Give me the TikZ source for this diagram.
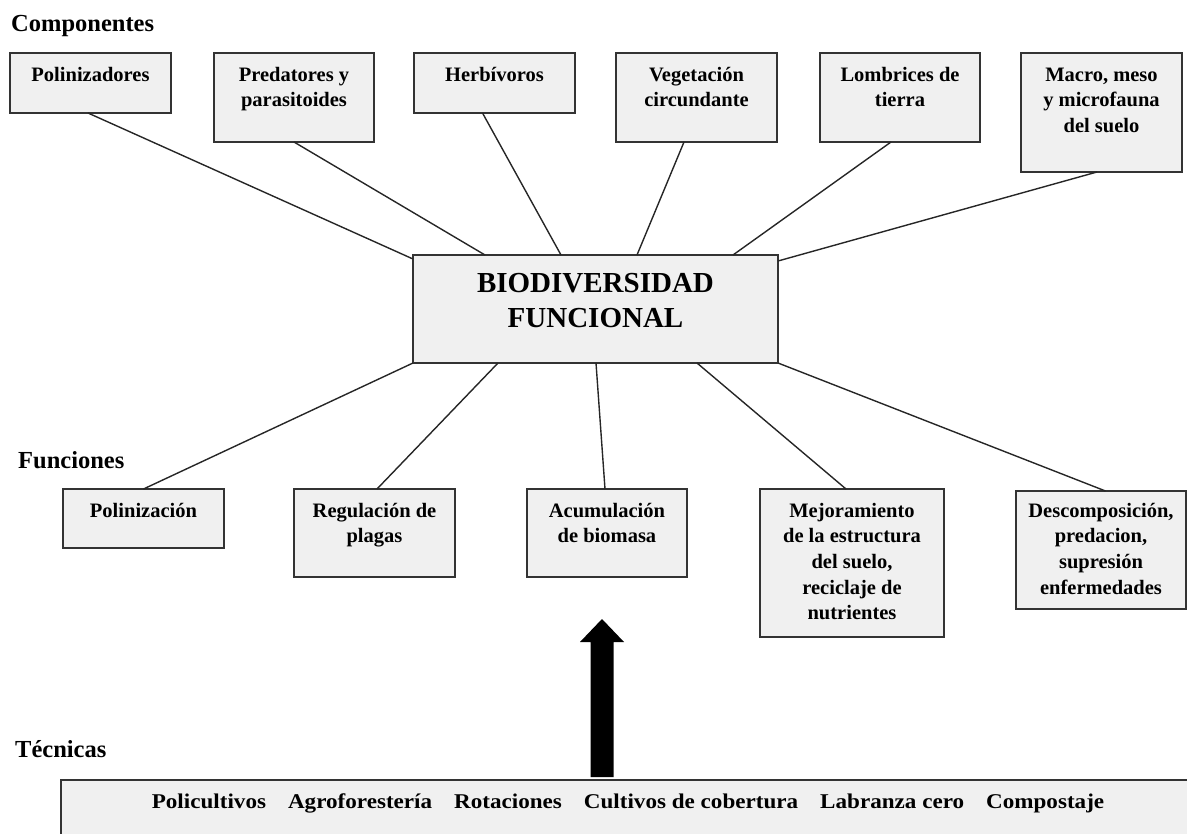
\documentclass[tikz,border=0pt]{standalone}
\usepackage{fontspec}
\setmainfont{Liberation Serif}
\newfontfamily\wideserif[FakeStretch=1.1]{Liberation Serif}
\usetikzlibrary{calc,shadows}

\definecolor{boxfill}{HTML}{F0F0F0}
\definecolor{boxline}{HTML}{333333}
\definecolor{linkcol}{HTML}{262626}

\tikzset{
  box/.style={draw=boxline, fill=boxfill, line width=1.5pt, anchor=north west,
    inner sep=0pt, outer sep=0pt,
    drop shadow={shadow xshift=0.6pt, shadow yshift=-1.4pt, fill=black!55, opacity=0.55}},
  boxtext/.style={anchor=north, align=center, inner sep=0pt,
    font=\bfseries\fontsize{20.5}{25.7}\selectfont},
  bigtext/.style={anchor=north, align=center, inner sep=0pt,
    font=\bfseries\fontsize{29}{35}\selectfont},
  section/.style={anchor=base west, inner sep=0pt,
    font=\bfseries\fontsize{24.5}{29}\selectfont},
  link/.style={draw=linkcol, line width=1.4pt},
}

\begin{document}
\begin{tikzpicture}[x=1pt, y=-1pt]
\useasboundingbox (0,0) rectangle (1187,834);
\clip (0,0) rectangle (1187,834);

% section headings
\node[section] (lcomp) at (11,32)  {Componentes};
\node[section] (lfunc) at (18,468) {Funciones};
\node[section] (ltec)  at (15,757) {Técnicas};

% components
\node[box, minimum width=161pt, minimum height=60pt]  (c1) at (10,53)   {};
\node[box, minimum width=160pt, minimum height=89pt]  (c2) at (214,53)  {};
\node[box, minimum width=161pt, minimum height=60pt]  (c3) at (414,53)  {};
\node[box, minimum width=161pt, minimum height=89pt]  (c4) at (616,53)  {};
\node[box, minimum width=160pt, minimum height=89pt]  (c5) at (820,53)  {};
\node[box, minimum width=161pt, minimum height=119pt] (c6) at (1021,53) {};

\node[boxtext] (c1t) at ([yshift=-10pt]c1.north) {\strut Polinizadores};
\node[boxtext] (c2t) at ([yshift=-10pt]c2.north) {\strut Predatores y\\parasitoides};
\node[boxtext] (c3t) at ([yshift=-10pt]c3.north) {\strut Herbívoros};
\node[boxtext] (c4t) at ([yshift=-10pt]c4.north) {\strut Vegetación\\circundante};
\node[boxtext] (c5t) at ([yshift=-10pt]c5.north) {\strut Lombrices de\\tierra};
\node[boxtext] (c6t) at ([yshift=-10pt]c6.north) {\strut Macro, meso\\y microfauna\\del suelo};

% central box
\node[box, minimum width=365pt, minimum height=108pt] (bio) at (413,255) {};
\node[bigtext] (biot) at ([yshift=-12.5pt]bio.north) {\strut BIODIVERSIDAD\\FUNCIONAL};

% functions
\node[box, minimum width=161pt, minimum height=59pt]  (f1) at (63,489)   {};
\node[box, minimum width=161pt, minimum height=88pt]  (f2) at (294,489)  {};
\node[box, minimum width=160pt, minimum height=88pt]  (f3) at (527,489)  {};
\node[box, minimum width=184pt, minimum height=148pt] (f4) at (760,489)  {};
\node[box, minimum width=170pt, minimum height=118pt] (f5) at (1016,491) {};

\node[boxtext] (f1t) at ([yshift=-10pt]f1.north) {\strut Polinización};
\node[boxtext] (f2t) at ([yshift=-10pt]f2.north) {\strut Regulación de\\plagas};
\node[boxtext] (f3t) at ([yshift=-10pt]f3.north) {\strut Acumulación\\de biomasa};
\node[boxtext] (f4t) at ([yshift=-10pt]f4.north) {\strut Mejoramiento\\de la estructura\\del suelo,\\reciclaje de\\nutrientes};
\node[boxtext] (f5t) at ([yshift=-8pt]f5.north) {\strut Descomposición,\\predacion,\\supresión\\enfermedades};

% techniques
\node[box, minimum width=1200pt, minimum height=100pt] (tec) at (61,780) {};
\node[anchor=base, inner sep=0pt, font=\wideserif\bfseries\fontsize{21}{25}\selectfont] (tect) at (628,808)
  {Policultivos\hspace{22pt}Agroforestería\hspace{22pt}Rotaciones\hspace{22pt}Cultivos de cobertura\hspace{22pt}Labranza cero\hspace{22pt}Compostaje};

% connectors: components to the central box
\draw[link] ([xshift=-2.5pt]c1.south) -- ([yshift=-4pt]bio.north west);
\draw[link] (c2.south) -- ([xshift=-110.5pt]bio.north);
\draw[link] ([xshift=-12pt]c3.south) -- ([xshift=-34.5pt]bio.north);
\draw[link] ([xshift=-12.5pt]c4.south) -- ([xshift=41.5pt]bio.north);
\draw[link] ([xshift=-9pt]c5.south) -- ([xshift=137.5pt]bio.north);
\draw[link] ([xshift=-4.5pt]c6.south) -- ([yshift=-6pt]bio.north east);

% connectors: central box to functions
\draw[link] (bio.south west) -- (f1.north);
\draw[link] ([xshift=-97.5pt]bio.south) -- ([xshift=2.5pt]f2.north);
\draw[link] ([xshift=0.5pt]bio.south) -- ([xshift=-2pt]f3.north);
\draw[link] ([xshift=101.5pt]bio.south) -- ([xshift=-6pt]f4.north);
\draw[link] (bio.south east) -- ([xshift=4.5pt]f5.north);

% thick arrow from the techniques bar upwards
\coordinate (tip) at (602,619);
\coordinate (base) at ($(tip |- tec.north)+(0,-3)$);
\fill[black] ($(base)+(-11.5,0)$) -- ($(tip)+(-11.5,23)$) -- ($(tip)+(-22,23)$) -- (tip)
  -- ($(tip)+(22,23)$) -- ($(tip)+(11.5,23)$) -- ($(base)+(11.5,0)$) -- cycle;
\end{tikzpicture}
\end{document}
